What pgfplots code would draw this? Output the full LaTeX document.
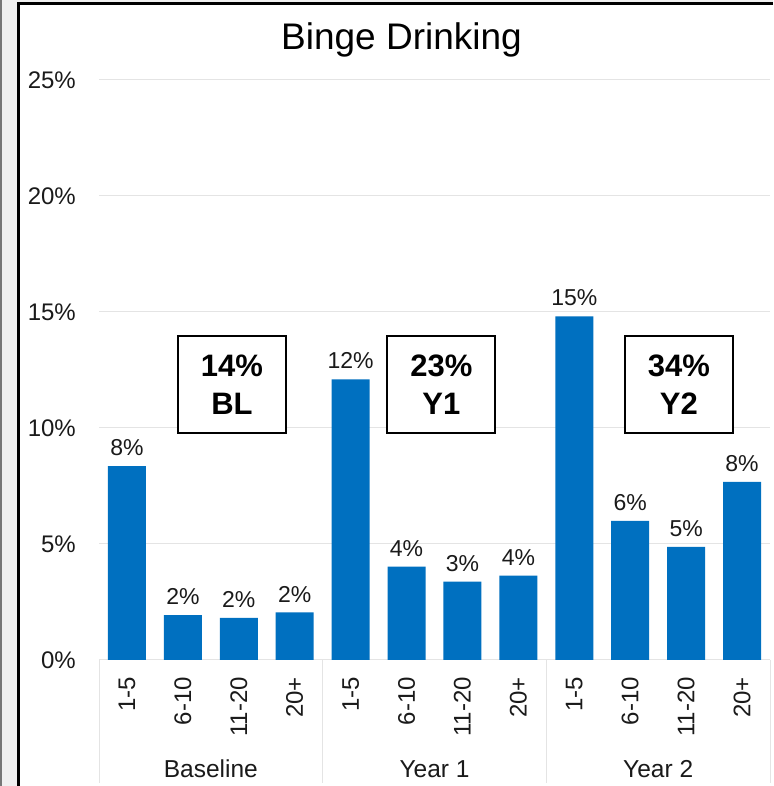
\documentclass[border=0pt]{standalone}
\usepackage{pgfplots}
\pgfplotsset{compat=1.18}
\usepackage{fontspec}
\setmainfont{Liberation Sans}
\definecolor{barblue}{HTML}{0070C0}
\definecolor{gridgray}{HTML}{E4E4E4}
\definecolor{bggray}{HTML}{F0F0F0}
\definecolor{edgegray}{HTML}{777777}
\definecolor{txt}{HTML}{1A1A1A}
\begin{document}
\begin{tikzpicture}[x=1pt,y=1pt]
\useasboundingbox (0,0) rectangle (773,786);
\fill[bggray] (0,0) rectangle (773,786);
\fill[white] (18,0) rectangle (773,782);
\fill[edgegray] (0,0) rectangle (2,786);
\draw[black, line width=2.5pt] (18.5,0) -- (18.5,782.5) -- (773,782.5);
% group separators
\foreach \xx in {99,322.7,546.3,770}{
  \draw[gridgray, line width=1pt] (\xx,126) -- (\xx,3);
}
\begin{axis}[
  at={(99pt,126pt)}, anchor=south west,
  scale only axis, width=671pt, height=580pt,
  xmin=-0.5, xmax=11.5, ymin=0, ymax=25,
  ybar, bar width=0.68,
  axis line style={draw=none},
  major tick length=0pt,
  ytick={0,5,10,15,20,25},
  yticklabels={0\%,5\%,10\%,15\%,20\%,25\%},
  yticklabel style={anchor=east, inner sep=0pt, font=\fontsize{24}{28}\selectfont, text=txt},
  yticklabel shift=23pt,
  xtick={0,1,2,3,4,5,6,7,8,9,10,11},
  xticklabels={1-5,6-10,11-20,20+,1-5,6-10,11-20,20+,1-5,6-10,11-20,20+},
  xticklabel style={rotate=90, anchor=east, inner sep=0pt, font=\fontsize{24}{28}\selectfont, text=txt},
  xticklabel shift=17pt,
  ymajorgrids, grid style={gridgray, line width=1pt},
  clip=false,
  nodes near coords,
  point meta=explicit symbolic,
  nodes near coords style={anchor=south, inner sep=0pt, yshift=10pt, font=\fontsize{23}{26}\selectfont, text=txt},
]
\addplot[fill=barblue, draw=none] coordinates {
  (0,8.36) [8\%]
  (1,1.93) [2\%]
  (2,1.82) [2\%]
  (3,2.05) [2\%]
  (4,12.1) [12\%]
  (5,4.02) [4\%]
  (6,3.38) [3\%]
  (7,3.64) [4\%]
  (8,14.81) [15\%]
  (9,6.0) [6\%]
  (10,4.88) [5\%]
  (11,7.68) [8\%]
};
\node[draw=black, line width=2pt, fill=white, minimum width=108pt, minimum height=97pt, align=center, font=\fontsize{31}{38}\selectfont\bfseries, text=black] at (axis cs:1.878,11.86) {14\%\\BL};
\node[draw=black, line width=2pt, fill=white, minimum width=108pt, minimum height=97pt, align=center, font=\fontsize{31}{38}\selectfont\bfseries, text=black] at (axis cs:5.624,11.86) {23\%\\Y1};
\node[draw=black, line width=2pt, fill=white, minimum width=108pt, minimum height=97pt, align=center, font=\fontsize{31}{38}\selectfont\bfseries, text=black] at (axis cs:9.87,11.86) {34\%\\Y2};
\end{axis}
\node[anchor=base, inner sep=0pt, font=\fontsize{37}{40}\selectfont, text=black] at (401.5,736) {Binge Drinking};
\node[anchor=base, inner sep=0pt, font=\fontsize{24.5}{28}\selectfont, text=txt] at (210.8,9) {Baseline};
\node[anchor=base, inner sep=0pt, font=\fontsize{24.5}{28}\selectfont, text=txt] at (434.5,9) {Year 1};
\node[anchor=base, inner sep=0pt, font=\fontsize{24.5}{28}\selectfont, text=txt] at (658.2,9) {Year 2};
\end{tikzpicture}
\end{document}
